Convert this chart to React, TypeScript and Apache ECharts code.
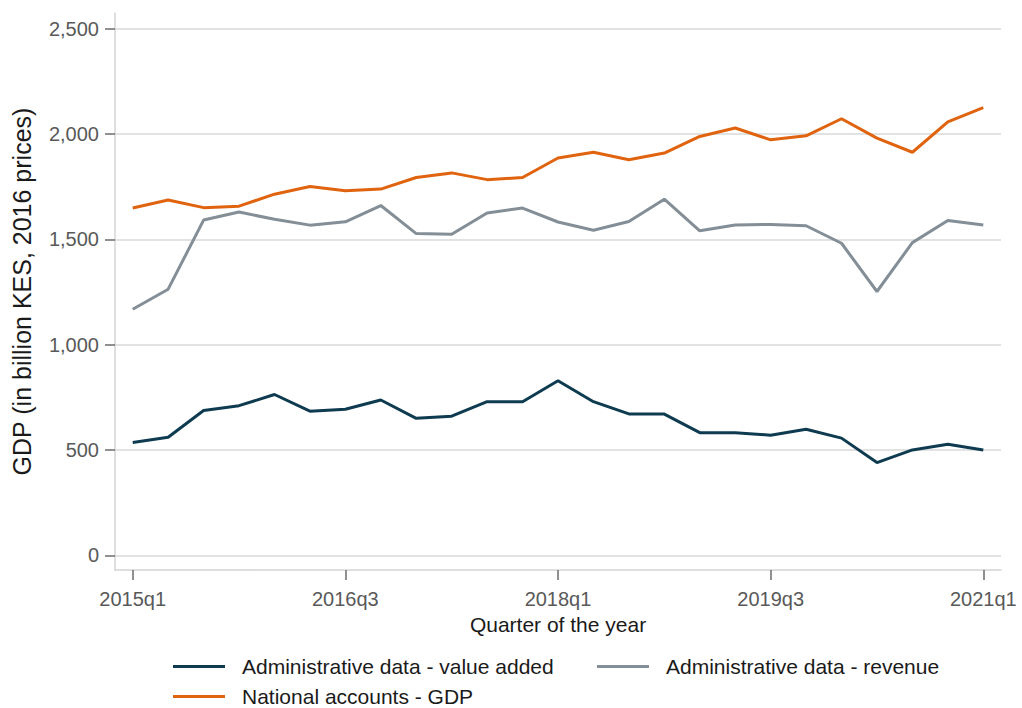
import { useEffect, useRef } from 'react';
import * as echarts from 'echarts';

const quarters = [
  '2015q1', '2015q2', '2015q3', '2015q4',
  '2016q1', '2016q2', '2016q3', '2016q4',
  '2017q1', '2017q2', '2017q3', '2017q4',
  '2018q1', '2018q2', '2018q3', '2018q4',
  '2019q1', '2019q2', '2019q3', '2019q4',
  '2020q1', '2020q2', '2020q3', '2020q4',
  '2021q1',
];

const valueAdded = [
  535, 560, 687, 710, 763, 684, 693, 737, 650, 660, 729, 729, 828,
  729, 671, 670, 582, 582, 570, 598, 556, 440, 500, 527, 500,
];

const revenue = [
  1168, 1263, 1591, 1629, 1595, 1567, 1583, 1660, 1527, 1524, 1625, 1648, 1582,
  1543, 1584, 1690, 1540, 1568, 1570, 1564, 1481, 1252, 1484, 1589, 1568,
];

const nationalGdp = [
  1648, 1686, 1650, 1657, 1714, 1750, 1730, 1738, 1793, 1815, 1783, 1793, 1886,
  1913, 1877, 1909, 1988, 2028, 1972, 1991, 2072, 1980, 1913, 2057, 2125,
];

const yTicks = [0, 500, 1000, 1500, 2000, 2500];

const FONT = '"Liberation Sans", Arial, sans-serif';
const NAVY = '#0e3b50';
const GRAY = '#848e96';
const ORANGE = '#e0640f';

export default function App() {
  const chartRef = useRef<HTMLDivElement>(null);

  useEffect(() => {
    if (!chartRef.current) return;
    const chart = echarts.init(chartRef.current, undefined, { renderer: 'svg' });

    const legendBase = {
      orient: 'horizontal' as const,
      padding: 0,
      icon: 'rect',
      itemWidth: 52,
      itemHeight: 3,
      textStyle: {
        fontFamily: FONT,
        fontSize: 21,
        color: '#1a1a1a',
        padding: [0, 0, 0, 12],
      },
    };

    const option: echarts.EChartsOption = {
      animation: false,
      backgroundColor: '#ffffff',
      grid: {
        left: 115,
        right: 21,
        top: 13,
        bottom: 138,
        containLabel: false,
      },
      legend: [
        { ...legendBase, left: 173, top: 656, data: ['Administrative data - value added'] },
        { ...legendBase, left: 597, top: 656, data: ['Administrative data - revenue'] },
        { ...legendBase, left: 173, top: 686, data: ['National accounts - GDP'] },
      ],
      xAxis: {
        type: 'category',
        data: quarters,
        boundaryGap: true,
        name: 'Quarter of the year',
        nameLocation: 'middle',
        nameGap: 40,
        nameTextStyle: {
          fontFamily: FONT,
          fontSize: 21,
          color: '#1a1a1a',
        },
        axisLine: {
          onZero: false,
          lineStyle: { color: '#d4d4d4', width: 1.5 },
        },
        axisTick: {
          show: true,
          alignWithLabel: true,
          interval: 5,
          length: 10,
          lineStyle: { color: '#6b6b6b', width: 1.5 },
        },
        axisLabel: {
          interval: 5,
          margin: 19,
          fontFamily: FONT,
          fontSize: 20,
          color: '#595959',
        },
        splitLine: { show: false },
      },
      yAxis: {
        type: 'value',
        min: -70,
        max: 2574,
        name: 'GDP (in billion KES, 2016 prices)',
        nameLocation: 'middle',
        nameGap: 81,
        nameTextStyle: {
          fontFamily: FONT,
          fontSize: 25,
          color: '#1a1a1a',
        },
        axisLine: {
          show: true,
          lineStyle: { color: '#d4d4d4', width: 1.5 },
        },
        axisTick: {
          show: true,
          length: 10,
          customValues: yTicks,
          lineStyle: { color: '#6b6b6b', width: 1.5 },
        },
        axisLabel: {
          customValues: yTicks,
          margin: 16,
          fontFamily: FONT,
          fontSize: 20,
          color: '#595959',
          formatter: (v: number) => v.toLocaleString('en-US'),
        },
        splitLine: {
          show: true,
          lineStyle: { color: '#d9d9d9', width: 1.5 },
        },
      },
      series: [
        {
          name: 'Administrative data - value added',
          type: 'line',
          data: valueAdded,
          symbol: 'none',
          color: NAVY,
          lineStyle: { width: 3, color: NAVY },
          itemStyle: { color: NAVY },
        },
        {
          name: 'Administrative data - revenue',
          type: 'line',
          data: revenue,
          symbol: 'none',
          color: GRAY,
          lineStyle: { width: 3, color: GRAY },
          itemStyle: { color: GRAY },
        },
        {
          name: 'National accounts - GDP',
          type: 'line',
          data: nationalGdp,
          symbol: 'none',
          color: ORANGE,
          lineStyle: { width: 3, color: ORANGE },
          itemStyle: { color: ORANGE },
        },
      ],
    };

    chart.setOption(option);

    return () => {
      chart.dispose();
    };
  }, []);

  return (
    <div
      ref={chartRef}
      style={{ position: 'fixed', left: 0, top: 0, width: 1022, height: 708 }}
    />
  );
}
